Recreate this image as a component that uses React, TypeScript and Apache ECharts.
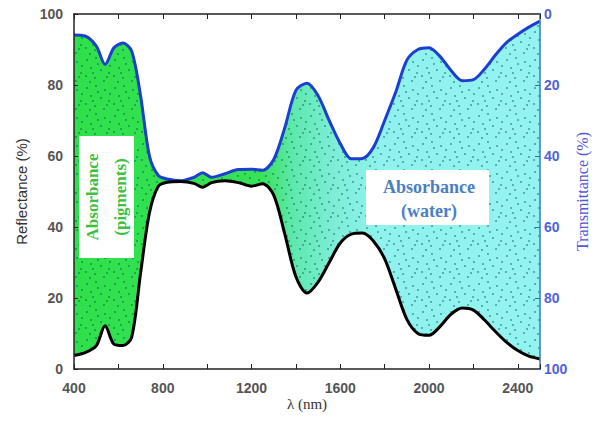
import React, { useEffect, useRef } from "react";
import * as echarts from "echarts";

// Wavelength samples (nm)
const lambda = [400, 450, 500, 540, 580, 620, 660, 700, 740, 780, 820, 880, 940, 980, 1020, 1080, 1140, 1200, 1250, 1300, 1350, 1400, 1450, 1500, 1550, 1600, 1650, 1700, 1750, 1800, 1850, 1900, 1950, 2000, 2050, 2100, 2150, 2200, 2250, 2300, 2350, 2400, 2450, 2500];
// Reflectance (%) – black curve, left axis
const reflectance = [3.8, 4.6, 6.5, 12.2, 7, 6.6, 9, 27, 44, 51.5, 52.6, 52.8, 52.3, 51.2, 52.5, 53, 52.5, 51.5, 52.2, 49, 38, 26, 21.4, 24.5, 30, 35.5, 38, 38.3, 36, 31, 22.5, 14, 10, 9.5, 12, 15.5, 17.2, 16.6, 13.8, 10.5, 7.5, 5.2, 3.6, 2.8];
// Transmittance (%) – blue curve, right (inverted) axis
const transmittance = [5.9, 6.2, 9, 14.2, 9.5, 8.2, 10.5, 23, 40, 45.5, 46.5, 47, 46, 44.7, 46, 45, 43.8, 43.7, 44, 41, 32, 21.5, 19.5, 23, 30, 36.5, 40.8, 40.7, 37.5, 30, 22, 13, 10, 9.5, 12, 16, 18.8, 18.5, 15.5, 11.5, 8, 5.7, 3.7, 2];
const yTicks = [0, 20, 40, 60, 80, 100];

export default function App() {
  const ref = useRef<HTMLDivElement>(null);
  useEffect(() => {
    if (!ref.current) return;
    const chart = echarts.init(ref.current, undefined, { renderer: "svg" });

    // dot texture tile
    const tile = document.createElement("canvas");
    tile.width = 28;
    tile.height = 28;
    const ctx = tile.getContext("2d");
    const dots = [[3, 4], [12, 2], [21, 6], [7, 12], [17, 14], [25, 17], [2, 20], [11, 22], [20, 25], [14, 8], [26, 10], [6, 26], [9, 17], [23, 21]];
    if (ctx) {
      ctx.fillStyle = "rgba(0,90,70,0.55)";
      dots.forEach(([x, y]) => {
        ctx.beginPath();
        ctx.arc(x, y, 1, 0, Math.PI * 2);
        ctx.fill();
      });
    }

    // upper boundary of the shaded band in left-axis units (right axis is inverted)
    const upper = lambda.map((l, i) => [l, 100 - transmittance[i]]);
    const refl = lambda.map((l, i) => [l, reflectance[i]]);
    const blue = lambda.map((l, i) => [l, transmittance[i]]);
    const smooth = 0.3;

    const option: any = {
      animation: false,
      grid: { left: 74, right: 57, top: 14, bottom: 64, containLabel: false, outerBoundsMode: "none" },
      xAxis: [
        {
          type: "value",
          min: 400,
          max: 2500,
          interval: 400,
          z: 5,
          name: "λ (nm)",
          nameLocation: "middle",
          nameGap: 27,
          nameMoveOverlap: false,
          nameTextStyle: { fontFamily: "Liberation Serif", fontSize: 15, color: "#333" },
          axisLine: { lineStyle: { color: "#222", width: 1.5 } },
          axisTick: { inside: true, length: 5, lineStyle: { color: "#222" } },
          minorTick: { show: true, splitNumber: 2, length: 5, lineStyle: { color: "#222" } },
          axisLabel: {
            showMaxLabel: false, margin: 12, fontFamily: "Liberation Sans", fontSize: 14,
            fontWeight: "bold", color: "#555", formatter: (v: number) => String(v),
          },
          splitLine: { show: false },
        },
        {
          type: "value",
          position: "top",
          min: 400,
          max: 2500,
          interval: 400,
          z: 5,
          axisLine: { lineStyle: { color: "#222", width: 1.5 } },
          axisTick: { inside: true, length: 5, lineStyle: { color: "#222" } },
          minorTick: { show: true, splitNumber: 2, length: 5, lineStyle: { color: "#222" } },
          axisLabel: { show: false },
          splitLine: { show: false },
        },
      ],
      yAxis: [
        {
          type: "value",
          min: yTicks[0],
          max: yTicks[yTicks.length - 1],
          interval: 20,
          z: 5,
          name: "Reflectance (%)",
          nameLocation: "middle",
          nameGap: 45,
          nameMoveOverlap: false,
          nameTextStyle: { fontFamily: "Liberation Sans", fontSize: 15, color: "#333" },
          axisLine: { show: true, lineStyle: { color: "#222", width: 1.5 } },
          axisTick: { show: true, inside: true, length: 4, lineStyle: { color: "#222" } },
          axisLabel: { margin: 11, fontFamily: "Liberation Sans", fontSize: 14, fontWeight: "bold", color: "#555" },
          splitLine: { show: false },
        },
        {
          type: "value",
          position: "right",
          inverse: true,
          min: yTicks[0],
          max: yTicks[yTicks.length - 1],
          interval: 20,
          z: 5,
          name: "Transmittance (%)",
          nameLocation: "middle",
          nameGap: 34,
          nameRotate: 90,
          nameMoveOverlap: false,
          nameTextStyle: { fontFamily: "Liberation Serif", fontSize: 16, color: "#5656d8" },
          axisLine: { show: true, lineStyle: { color: "#3a78c0", width: 1.5 } },
          axisTick: { show: true, inside: true, length: 5, lineStyle: { color: "#3a60c8" } },
          axisLabel: { margin: 4, fontFamily: "Liberation Sans", fontSize: 14, fontWeight: "bold", color: "#4f62d6" },
          splitLine: { show: false },
        },
      ],
      series: [
        {
          type: "line", name: "bandFill", data: upper, symbol: "none", smooth, silent: true,
          lineStyle: { width: 0, opacity: 0 },
          areaStyle: {
            opacity: 1,
            color: new echarts.graphic.LinearGradient(0, 0, 1, 0, [
              { offset: 0, color: "#2fe04c" },
              { offset: 0.4, color: "#36e256" },
              { offset: 0.47, color: "#5ee8ad" },
              { offset: 0.56, color: "#7eeed8" },
              { offset: 0.66, color: "#8ff2ee" },
              { offset: 1, color: "#93f3f0" },
            ]),
          },
        },
        {
          type: "line", name: "bandDots", data: upper, symbol: "none", smooth, silent: true,
          lineStyle: { width: 0, opacity: 0 },
          areaStyle: { opacity: 1, color: { image: tile, repeat: "repeat" } },
        },
        {
          type: "line", name: "belowReflectance", data: refl, symbol: "none", smooth, silent: true,
          lineStyle: { width: 0, opacity: 0 },
          areaStyle: { opacity: 1, color: "#ffffff" },
        },
        {
          type: "line", name: "Transmittance", data: blue, yAxisIndex: 1, symbol: "none", smooth,
          lineStyle: { color: "#1c3fcf", width: 3 },
        },
        {
          type: "line", name: "Reflectance", data: refl, symbol: "none", smooth,
          lineStyle: { color: "#000", width: 3 },
        },
      ],
      graphic: [
        {
          type: "rect", z: 100,
          shape: { x: 79, y: 136, width: 55, height: 122 },
          style: { fill: "#ffffff" },
        },
        {
          type: "text", z: 101, x: 106.5, y: 197, rotation: Math.PI / 2,
          style: {
            text: "Absorbance\n(pigments)", align: "center", verticalAlign: "middle",
            fontFamily: "Liberation Serif", fontWeight: "bold", fontSize: 17, lineHeight: 28,
            fill: "#3cbf42",
          },
        },
        {
          type: "rect", z: 100,
          shape: { x: 366, y: 170, width: 123, height: 55 },
          style: { fill: "#ffffff" },
        },
        {
          type: "text", z: 101, x: 429, y: 199,
          style: {
            text: "Absorbance\n(water)", align: "center", verticalAlign: "middle",
            fontFamily: "Liberation Serif", fontWeight: "bold", fontSize: 18, lineHeight: 24,
            fill: "#4a7ec8",
          },
        },
      ],
    };
    chart.setOption(option);
    return () => chart.dispose();
  }, []);
  return (
    <div
      ref={ref}
      style={{ position: "fixed", left: 0, top: 0, width: 597, height: 433, background: "#fff" }}
    />
  );
}
